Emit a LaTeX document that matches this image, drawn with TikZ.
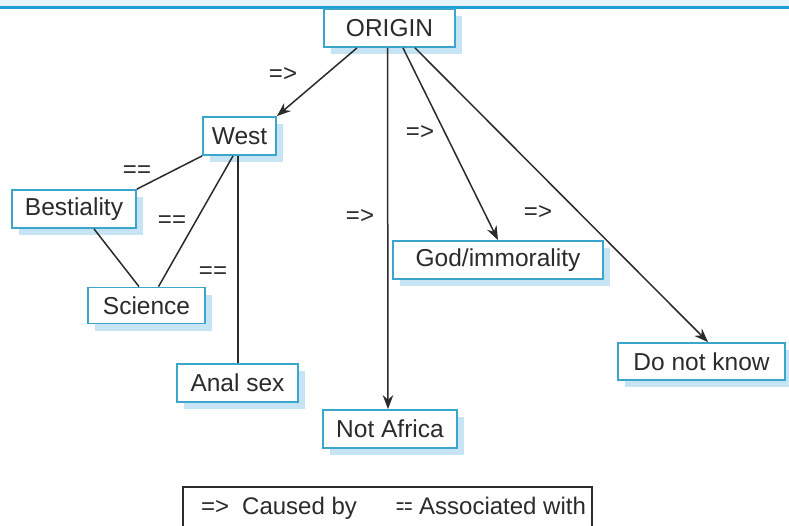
\documentclass[tikz,border=0pt]{standalone}
\usepackage{fontspec}
\setmainfont{Liberation Sans}
\usetikzlibrary{arrows.meta,shadows}
\definecolor{boxblue}{HTML}{3AA6CC}
\definecolor{shadowblue}{HTML}{C6E4F3}
\definecolor{ink}{HTML}{2B2B2B}
\definecolor{bandblue}{HTML}{E6F3F9}
\definecolor{rule}{HTML}{1E9FD6}
\tikzset{
  x=1pt, y=-1pt,
  box/.style={draw=boxblue, line width=1.8pt, fill=white, inner sep=0pt,
    text=ink, font=\fontsize{24.5}{27}\selectfont,
    drop shadow={shadow xshift=7pt, shadow yshift=-7pt, fill=shadowblue, opacity=1, draw=none}},
  cause/.style={draw=ink, line width=1.5pt, -{Stealth[length=14pt,width=10.5pt]}},
  assoc/.style={draw=ink, line width=1.5pt},
  lbl/.style={text=ink, font=\fontsize{24}{27}\selectfont, inner sep=0pt},
}
\begin{document}
\begin{tikzpicture}
\useasboundingbox (0,0) rectangle (789,525);
\fill[white] (0,0) rectangle (789,525);
% header strip
\fill[bandblue] (0,0) rectangle (789,6);
\draw[rule, line width=3pt] (0,7.5) -- (789,7.5);

% boxes
\node[box, minimum width=131pt, minimum height=38pt] (origin) at (389.5,28) {ORIGIN};
\node[box, minimum width=73pt, minimum height=38pt] (west) at (239.5,136) {West};
\node[box, minimum width=124pt, minimum height=38pt] (best) at (74,209) {Bestiality};
\node[box, minimum width=117pt, minimum height=36pt] (sci) at (146.5,305.5) {Science};
\node[box, minimum width=121pt, minimum height=38pt] (anal) at (237.5,383) {Anal sex};
\node[box, minimum width=134pt, minimum height=38pt] (notaf) at (390,429) {Not Africa};
\node[box, minimum width=210pt, minimum height=38pt] (god) at (498,260) {God/immorality};
\node[box, minimum width=167pt, minimum height=37pt] (dnk) at (701.5,361.5) {Do not know};

% causal links
\draw[cause] ([xshift=-32.5pt]origin.south) -- (west.north east);
\draw[cause] ([xshift=-2pt]origin.south) -- ([xshift=-2pt]notaf.north);
\draw[cause] ([xshift=13.5pt]origin.south) -- (god.north);
\draw[cause] ([xshift=25.5pt]origin.south) -- ([xshift=6.5pt]dnk.north);

% associations
\draw[assoc] (west.south west) -- (best.north east);
\draw[assoc] ([xshift=-6.5pt]west.south) -- ([xshift=12pt]sci.north);
\draw[assoc] ([xshift=-1.5pt]west.south) -- ([xshift=0.5pt]anal.north);
\draw[assoc] ([xshift=20pt]best.south) -- ([xshift=-7.5pt]sci.north);

% link labels
\node[lbl] (l1) at (283,75) {=>};
\node[lbl] (l2) at (360,216) {=>};
\node[lbl] (l3) at (420,133) {=>};
\node[lbl] (l4) at (538,212) {=>};
\node[lbl] (l5) at (137,172) {==};
\node[lbl] (l6) at (172,222) {==};
\node[lbl] (l7) at (213,273) {==};

% legend
\draw[draw=ink, line width=1.2pt, fill=white] (183,487) rectangle (592,535);
\node[lbl, anchor=base west] (k1) at (201,514) {=>};
\node[lbl, anchor=base west] (k2) at (242,514) {Caused by};
\node[lbl, anchor=base west] (k3) at (396,514) {\scalebox{0.58}[1]{==}};
\node[lbl, anchor=base west] (k4) at (419,514) {Associated with};
\end{tikzpicture}
\end{document}
